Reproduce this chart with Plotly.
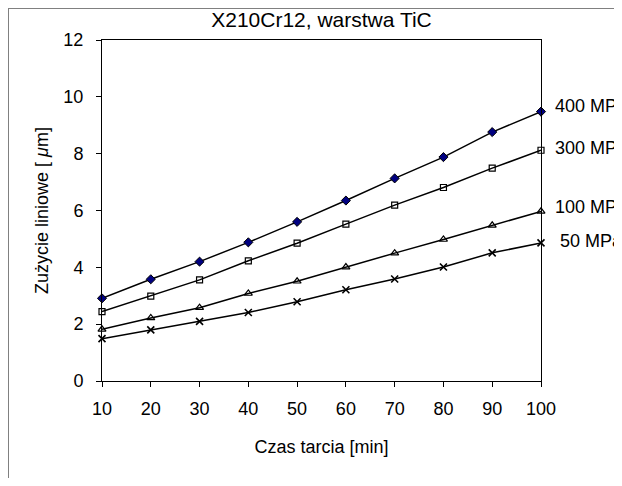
import plotly.graph_objects as go

czas = [10, 20, 30, 40, 50, 60, 70, 80, 90, 100]
mpa400 = [2.91, 3.58, 4.20, 4.88, 5.60, 6.35, 7.13, 7.88, 8.76, 9.48]
mpa300 = [2.44, 2.99, 3.56, 4.23, 4.85, 5.52, 6.19, 6.81, 7.49, 8.12]
mpa100 = [1.82, 2.22, 2.58, 3.08, 3.51, 4.01, 4.50, 4.98, 5.48, 5.97]
mpa50 = [1.49, 1.80, 2.10, 2.41, 2.79, 3.21, 3.59, 4.01, 4.51, 4.86]
labels = ["400 MPa", "300 MPa", "100 MPa", "50 MPa"]

FONT = "Arial, Liberation Sans, sans-serif"

fig = go.Figure()
series = [
    (mpa400, dict(symbol="diamond", size=7, color="#000080", line=dict(color="#000000", width=1))),
    (mpa300, dict(symbol="square-open", size=6, color="#000000", line=dict(width=1.2))),
    (mpa100, dict(symbol="triangle-up-open", size=7, color="#000000", line=dict(width=1.2))),
    (mpa50, dict(symbol="x-thin-open", size=7, color="#000000", line=dict(width=1.6, color="#000000"))),
]
for (vals, mk), name in zip(series, labels):
    fig.add_trace(go.Scatter(x=czas, y=vals, mode="lines+markers", name=name,
                             line=dict(color="#000000", width=1.5), marker=mk,
                             cliponaxis=False, showlegend=False))

yshifts = [6, 2, 4, 2]
xshifts = [12, 12, 12, 17]
for vals, name, ys, xs in zip([mpa400, mpa300, mpa100, mpa50], labels, yshifts, xshifts):
    fig.add_annotation(x=czas[-1], y=vals[-1], text=name, showarrow=False,
                       xanchor="left", yanchor="middle", xshift=xs, yshift=ys,
                       font=dict(family=FONT, size=18, color="#000000"))

# outer chart border (left and top edges)
fig.add_shape(type="line", xref="paper", yref="paper", x0=0.5 / 439 - 94 / 439, x1=0.5 / 439 - 94 / 439,
              y0=-0.5, y1=1 + 31.5 / 341, line=dict(color="#808080", width=1))
fig.add_shape(type="line", xref="paper", yref="paper", x0=-94 / 439, x1=1.5,
              y0=1 + 31.5 / 341, y1=1 + 31.5 / 341, line=dict(color="#808080", width=1))

fig.update_layout(
    width=614, height=470,
    margin=dict(l=94, r=81, t=32, b=97),
    paper_bgcolor="#ffffff", plot_bgcolor="#ffffff",
    title=dict(text="X210Cr12, warstwa TiC", x=0.5, xref="paper", xanchor="center",
               y=1 - 12 / 470, yanchor="middle",
               font=dict(family=FONT, size=21, color="#000000")),
    font=dict(family=FONT, size=18, color="#000000"),
    xaxis=dict(range=[10, 100], tickvals=czas, ticks="outside", ticklen=5,
               tickcolor="#000000", showgrid=False, zeroline=False,
               showline=True, linecolor="#000000", linewidth=1, mirror=True,
               tickfont=dict(family=FONT, size=18), ticklabelstandoff=6,
               title=dict(text="Czas tarcia [min]", font=dict(family=FONT, size=18), standoff=22)),
    yaxis=dict(range=[0, 12], dtick=2, ticks="outside", ticklen=5,
               tickcolor="#000000", showgrid=False, zeroline=False,
               showline=True, linecolor="#000000", linewidth=1, mirror=True,
               tickfont=dict(family=FONT, size=18), ticklabelstandoff=9,
               title=dict(text="Zużycie liniowe [ <i>μ</i>m]", font=dict(family=FONT, size=18), standoff=10)),
)

fig.write_html("out.html")
